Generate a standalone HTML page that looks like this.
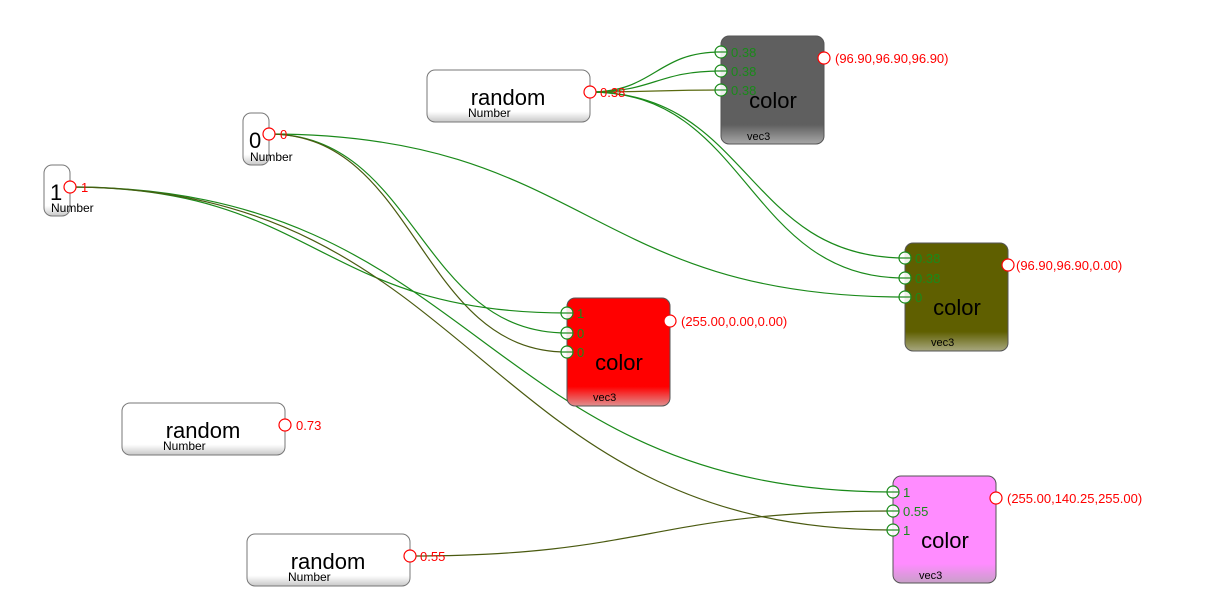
<!DOCTYPE html>
<html><head><meta charset="utf-8"><style>
html,body{margin:0;padding:0;background:#fff;}
svg{display:block;font-family:"Liberation Sans",Arial,sans-serif;}
</style></head><body>
<svg width="1224" height="615" viewBox="0 0 1224 615" xmlns="http://www.w3.org/2000/svg">
<defs>
<linearGradient id="gw" x1="0" y1="0" x2="0" y2="1"><stop offset="0.8" stop-color="#fff"/><stop offset="1" stop-color="#c8c8c8"/></linearGradient>
<linearGradient id="gg" x1="0" y1="0" x2="0" y2="1"><stop offset="0.82" stop-color="#5f5f5f"/><stop offset="1" stop-color="#a8a8a8"/></linearGradient>
<linearGradient id="go" x1="0" y1="0" x2="0" y2="1"><stop offset="0.82" stop-color="#5f5f00"/><stop offset="1" stop-color="#a8a880"/></linearGradient>
<linearGradient id="gr" x1="0" y1="0" x2="0" y2="1"><stop offset="0.82" stop-color="#ff0000"/><stop offset="1" stop-color="#e09090"/></linearGradient>
<linearGradient id="gp" x1="0" y1="0" x2="0" y2="1"><stop offset="0.82" stop-color="#ff8cff"/><stop offset="1" stop-color="#c8a0c8"/></linearGradient>
</defs>
<g fill="none" stroke="#1a8a1a" stroke-width="1.2">
<path d="M590 92 C655 92,656 52,721 52"/>
<path d="M590 92 C655 92,656 71,721 71"/>
<path d="M590 92 C655 92,656 90,721 90" stroke="#5a6a10"/>
<path d="M590 92 C750 92,745 258,905 258"/>
<path d="M590 92 C750 92,745 278,905 278"/>
<path d="M269 134 C587 134,587 297,905 297"/>
<path d="M269 134 C418 134,418 333,567 333"/>
<path d="M269 134 C418 134,418 352,567 352" stroke="#4a5a10"/>
<path d="M70 187 C318 187,318 313,567 313"/>
<path d="M70 187 C480 187,480 492,893 492"/>
<path d="M70 187 C480 187,480 530,893 530" stroke="#4a5a10"/>
<path d="M410 556 C650 556,650 511,893 511" stroke="#4a5a10"/>
</g>
<!-- white nodes -->
<rect x="427" y="70" width="163" height="52" rx="8" fill="url(#gw)" stroke="#777"/>
<text x="508" y="105" font-size="22" text-anchor="middle">random</text>
<text x="468" y="117" font-size="12">Number</text>
<rect x="122" y="403" width="163" height="52" rx="8" fill="url(#gw)" stroke="#777"/>
<text x="203" y="438" font-size="22" text-anchor="middle">random</text>
<text x="163" y="450" font-size="12">Number</text>
<rect x="247" y="534" width="163" height="52" rx="8" fill="url(#gw)" stroke="#777"/>
<text x="328" y="569" font-size="22" text-anchor="middle">random</text>
<text x="288" y="581" font-size="12">Number</text>
<rect x="243" y="113" width="26" height="52" rx="8" fill="url(#gw)" stroke="#777"/>
<text x="249" y="148" font-size="22">0</text>
<text x="250" y="161" font-size="12">Number</text>
<rect x="44" y="165" width="26" height="51" rx="8" fill="url(#gw)" stroke="#777"/>
<text x="50" y="200" font-size="22">1</text>
<text x="51" y="212" font-size="12">Number</text>
<!-- color nodes -->
<rect x="721" y="36" width="103" height="108" rx="8" fill="url(#gg)" stroke="#555"/>
<text x="773" y="108" font-size="22" text-anchor="middle">color</text>
<text x="747" y="140" font-size="11">vec3</text>
<rect x="905" y="243" width="103" height="108" rx="8" fill="url(#go)" stroke="#555"/>
<text x="957" y="315" font-size="22" text-anchor="middle">color</text>
<text x="931" y="346" font-size="11">vec3</text>
<rect x="567" y="298" width="103" height="108" rx="8" fill="url(#gr)" stroke="#555"/>
<text x="619" y="370" font-size="22" text-anchor="middle">color</text>
<text x="593" y="401" font-size="11">vec3</text>
<rect x="893" y="476" width="103" height="107" rx="8" fill="url(#gp)" stroke="#555"/>
<text x="945" y="548" font-size="22" text-anchor="middle">color</text>
<text x="919" y="579" font-size="11">vec3</text>
<!-- input ports -->
<g fill="#fff" fill-opacity="0.9" stroke="#1a8a1a" stroke-width="1.2">
<circle cx="721" cy="52" r="6"/><circle cx="721" cy="71" r="6"/><circle cx="721" cy="90" r="6"/>
<circle cx="905" cy="258" r="6"/><circle cx="905" cy="278" r="6"/><circle cx="905" cy="297" r="6"/>
<circle cx="567" cy="313" r="6"/><circle cx="567" cy="333" r="6"/><circle cx="567" cy="352" r="6"/>
<circle cx="893" cy="492" r="6"/><circle cx="893" cy="511" r="6"/><circle cx="893" cy="530" r="6"/>
</g>
<g stroke="#1a8a1a" stroke-width="1.2">
<line x1="715" y1="52" x2="727" y2="52"/><line x1="715" y1="71" x2="727" y2="71"/><line x1="715" y1="90" x2="727" y2="90"/>
<line x1="899" y1="258" x2="911" y2="258"/><line x1="899" y1="278" x2="911" y2="278"/><line x1="899" y1="297" x2="911" y2="297"/>
<line x1="561" y1="313" x2="573" y2="313"/><line x1="561" y1="333" x2="573" y2="333"/><line x1="561" y1="352" x2="573" y2="352"/>
<line x1="887" y1="492" x2="899" y2="492"/><line x1="887" y1="511" x2="899" y2="511"/><line x1="887" y1="530" x2="899" y2="530"/>
</g>
<g fill="#1a8a1a" font-size="13">
<text x="731" y="57">0.38</text><text x="731" y="76">0.38</text><text x="731" y="95">0.38</text>
<text x="915" y="263">0.38</text><text x="915" y="283">0.38</text><text x="915" y="302">0</text>
<text x="577" y="318">1</text><text x="577" y="338">0</text><text x="577" y="357">0</text>
<text x="903" y="497">1</text><text x="903" y="516">0.55</text><text x="903" y="535">1</text>
</g>
<!-- output ports -->
<g fill="#fff" stroke="#ff0000" stroke-width="1.2">
<circle cx="590" cy="92" r="6"/><circle cx="285" cy="425" r="6"/><circle cx="410" cy="556" r="6"/>
<circle cx="269" cy="134" r="6"/><circle cx="70" cy="187" r="6"/>
<circle cx="824" cy="58" r="6"/><circle cx="1008" cy="265" r="6"/><circle cx="670" cy="321" r="6"/><circle cx="996" cy="498" r="6"/>
</g>
<g fill="#ff0000" font-size="13">
<text x="600" y="97">0.38</text><text x="296" y="430">0.73</text><text x="420" y="561">0.55</text>
<text x="280" y="139">0</text><text x="81" y="192">1</text>
<text x="835" y="63">(96.90,96.90,96.90)</text>
<text x="1016" y="270">(96.90,96.90,0.00)</text>
<text x="681" y="326">(255.00,0.00,0.00)</text>
<text x="1007" y="503">(255.00,140.25,255.00)</text>
</g>
</svg>
</body></html>
